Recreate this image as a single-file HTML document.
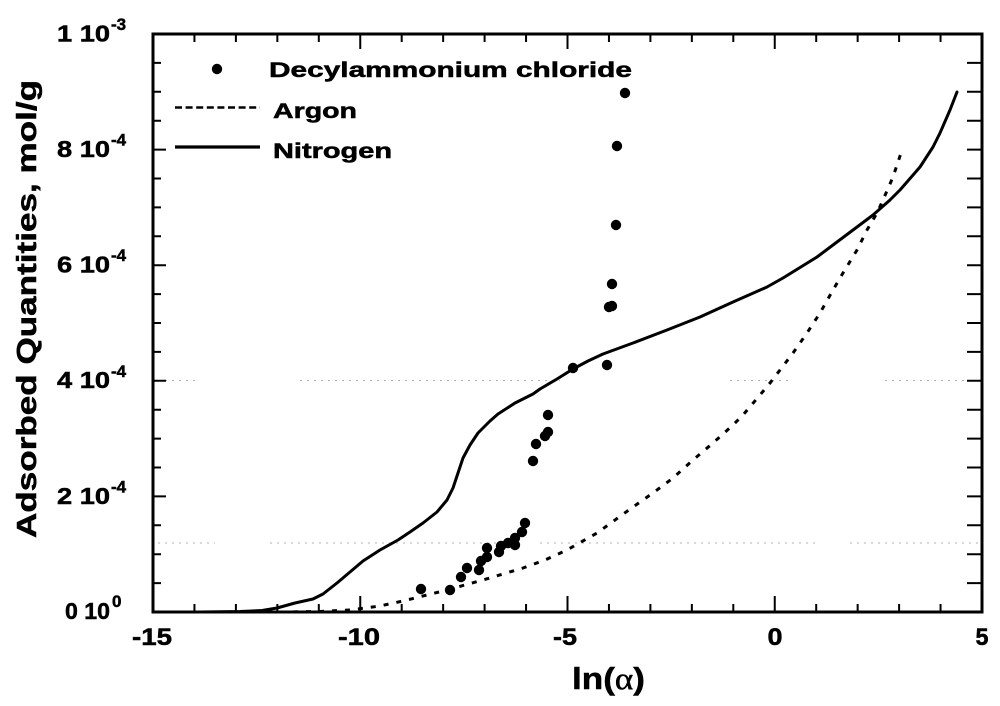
<!DOCTYPE html>
<html>
<head>
<meta charset="utf-8">
<style>
html,body{margin:0;padding:0;background:#fff;}
svg{display:block;}
text{font-family:"Liberation Sans",Arial,sans-serif;font-weight:bold;fill:#000;stroke:#000;stroke-width:0.5px;}
</style>
</head>
<body>
<svg width="1000" height="706" viewBox="0 0 1000 706" xmlns="http://www.w3.org/2000/svg">
<rect x="0" y="0" width="1000" height="706" fill="#fff"/>

<!-- faint scan gridline artifacts -->
<g stroke="#b0b0b0" stroke-width="1" stroke-dasharray="2 5" fill="none">
<path d="M158 543 H215 M270 543 H500 M540 543 H820 M850 543 H978"/>
<path d="M158 380.5 H200 M300 380.5 H560 M730 380.5 H790 M885 380.5 H978"/>
</g>

<!-- frame -->
<rect x="153" y="34" width="829" height="578" fill="none" stroke="#000" stroke-width="3"/>

<!-- ticks -->
<g stroke="#000" stroke-width="2" fill="none">
<path d="M194.45 612v-8M235.9 612v-8M277.35 612v-8M318.8 612v-8M401.7 612v-8M443.15 612v-8M484.6 612v-8M526.05 612v-8M608.95 612v-8M650.4 612v-8M691.85 612v-8M733.3 612v-8M816.2 612v-8M857.65 612v-8M899.1 612v-8M940.55 612v-8"/>
<path d="M360.25 612v-16M567.5 612v-16M774.75 612v-16"/>
<path d="M194.45 34v8M235.9 34v8M277.35 34v8M318.8 34v8M401.7 34v8M443.15 34v8M484.6 34v8M526.05 34v8M608.95 34v8M650.4 34v8M691.85 34v8M733.3 34v8M816.2 34v8M857.65 34v8M899.1 34v8M940.55 34v8"/>
<path d="M360.25 34v15M567.5 34v15M774.75 34v15"/>
<path d="M153 583.1h8M153 554.2h8M153 525.3h8M153 467.5h8M153 438.6h8M153 409.7h8M153 351.9h8M153 323h8M153 294.1h8M153 236.3h8M153 207.4h8M153 178.5h8M153 120.7h8M153 91.8h8M153 62.9h8"/>
<path d="M153 496.4h13M153 380.8h13M153 265.2h13M153 149.6h13"/>
<path d="M982 583.1h-15M982 554.2h-15M982 525.3h-15M982 496.4h-15M982 467.5h-15M982 438.6h-15M982 409.7h-15M982 380.8h-15M982 351.9h-15M982 323h-15M982 294.1h-15M982 265.2h-15M982 236.3h-15M982 207.4h-15M982 178.5h-15M982 149.6h-15M982 120.7h-15M982 91.8h-15M982 62.9h-15"/>
</g>

<!-- Y tick labels -->
<g font-size="23">
<text x="57" y="41.5" textLength="53" lengthAdjust="spacingAndGlyphs">1 10</text>
<text x="57" y="157" textLength="53" lengthAdjust="spacingAndGlyphs">8 10</text>
<text x="57" y="272.6" textLength="53" lengthAdjust="spacingAndGlyphs">6 10</text>
<text x="57" y="388.2" textLength="53" lengthAdjust="spacingAndGlyphs">4 10</text>
<text x="57" y="503.8" textLength="53" lengthAdjust="spacingAndGlyphs">2 10</text>
<text x="65" y="619" textLength="45" lengthAdjust="spacingAndGlyphs">0 10</text>
</g>
<g font-size="17">
<text x="111" y="30">-3</text>
<text x="111" y="145.6">-4</text>
<text x="111" y="261.2">-4</text>
<text x="111" y="376.8">-4</text>
<text x="111" y="492.4">-4</text>
<text x="112" y="607">0</text>
</g>

<!-- X tick labels -->
<g font-size="24" text-anchor="middle">
<text x="152" y="645" textLength="40" lengthAdjust="spacingAndGlyphs">-15</text>
<text x="359" y="645" textLength="42" lengthAdjust="spacingAndGlyphs">-10</text>
<text x="565" y="645" textLength="24" lengthAdjust="spacingAndGlyphs">-5</text>
<text x="775" y="645" textLength="15" lengthAdjust="spacingAndGlyphs">0</text>
<text x="982" y="645" textLength="13" lengthAdjust="spacingAndGlyphs">5</text>
</g>

<!-- X axis title -->
<text x="572" y="689" font-size="31" textLength="73" lengthAdjust="spacingAndGlyphs">ln(<tspan font-family="'Liberation Serif',serif" font-weight="normal">α</tspan>)</text>

<!-- Y axis title -->
<text transform="translate(36,538) rotate(-90)" x="0" y="0" font-size="28" textLength="458" lengthAdjust="spacingAndGlyphs">Adsorbed Quantities, mol/g</text>

<!-- Legend -->
<circle cx="217" cy="69" r="5.2" fill="#000"/>
<text x="269" y="77" font-size="21" textLength="363" lengthAdjust="spacingAndGlyphs">Decylammonium chloride</text>
<line x1="175" y1="107.5" x2="260" y2="107.5" stroke="#000" stroke-width="2.5" stroke-dasharray="7 3.6"/>
<text x="273" y="118" font-size="21" textLength="84" lengthAdjust="spacingAndGlyphs">Argon</text>
<line x1="175" y1="147" x2="260" y2="147" stroke="#000" stroke-width="3.2"/>
<text x="273" y="158" font-size="21" textLength="119" lengthAdjust="spacingAndGlyphs">Nitrogen</text>

<!-- Nitrogen (solid) -->
<polyline fill="none" stroke="#000" stroke-width="3" stroke-linejoin="round" stroke-linecap="round"
points="153,612 200,612 240,611.5 262,610.5 277,608 295,603 313,599 323,594 337,583 350,572 363,561 380,550 398,540 410,532 423,523 437,512 447,500 453,488 458,473 463,458 470,445 478,433 490,421 498,414 515,403 533,394 540,389 557,379 573,369 588,361 603,354 633,343 667,330 700,317 733,302 767,287 783,278 817,257 833,245 853,230 873,215 890,200 900,190 920,167 933,147 940,133 950,110 957,92"/>

<!-- Argon (dashed) -->
<polyline fill="none" stroke="#000" stroke-width="3" stroke-dasharray="5 8"
points="280,612 320,611.5 350,610 380,606 403,601 443,591 483,580 523,568 545,560 567,550 597,533 633,507 653,493 673,478 693,460 713,443 733,425 743,415 760,395 770,383 780,370 793,353 807,333 820,313 833,290 843,273 857,250 867,230 877,213 883,200 893,177 902,150"/>

<!-- Decylammonium chloride points -->
<g fill="#000">
<circle cx="421" cy="589" r="5.2"/>
<circle cx="450" cy="590" r="5.2"/>
<circle cx="461" cy="577" r="5.2"/>
<circle cx="467" cy="568" r="5.2"/>
<circle cx="479" cy="570" r="5.2"/>
<circle cx="481" cy="561" r="5.2"/>
<circle cx="487" cy="557" r="5.2"/>
<circle cx="487" cy="548" r="5.2"/>
<circle cx="499" cy="552" r="5.2"/>
<circle cx="501" cy="546" r="5.2"/>
<circle cx="508" cy="543" r="5.2"/>
<circle cx="515" cy="545" r="5.2"/>
<circle cx="515" cy="538" r="5.2"/>
<circle cx="522" cy="532" r="5.2"/>
<circle cx="525" cy="523" r="5.2"/>
<circle cx="533" cy="461" r="5.2"/>
<circle cx="536" cy="444" r="5.2"/>
<circle cx="545" cy="436" r="5.2"/>
<circle cx="548" cy="432" r="5.2"/>
<circle cx="548" cy="415" r="5.2"/>
<circle cx="573" cy="368" r="5.2"/>
<circle cx="607" cy="365" r="5.2"/>
<circle cx="609" cy="307" r="5.2"/>
<circle cx="612" cy="306" r="5.2"/>
<circle cx="612" cy="284" r="5.2"/>
<circle cx="616" cy="225" r="5.2"/>
<circle cx="617" cy="146" r="5.2"/>
<circle cx="625" cy="93" r="5.2"/>
</g>
</svg>
</body>
</html>
